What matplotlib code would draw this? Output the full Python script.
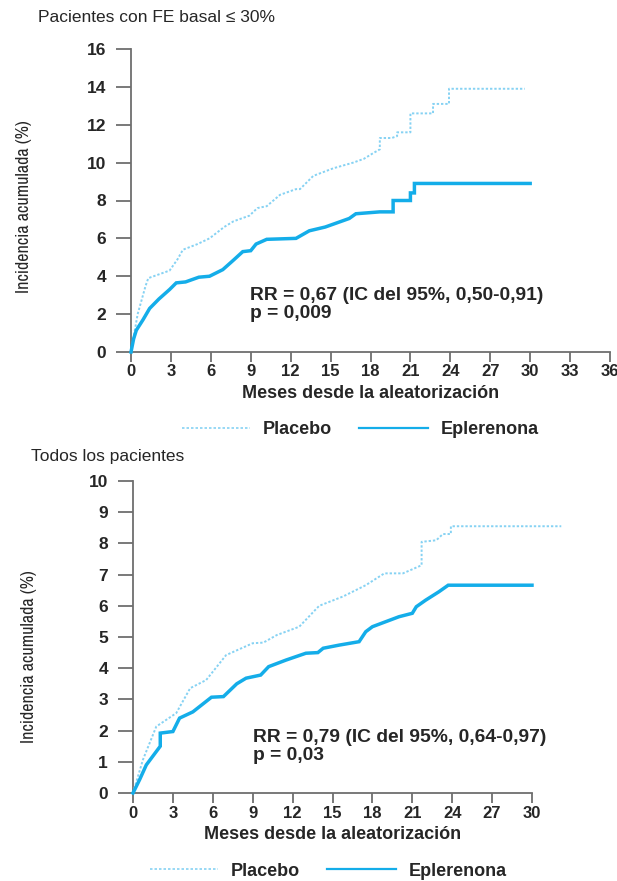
import matplotlib
matplotlib.use("Agg")
import matplotlib.pyplot as plt
from matplotlib.lines import Line2D
from matplotlib import font_manager

# ---------------- data ----------------
# Top panel: patients with baseline EF <= 30%  (repeated x = visible vertical jump)
top_plac_x = [0, 0.5, 1.1, 1.3, 2.9, 3.5, 3.9, 5.0, 5.9, 7.0, 7.7, 8.9, 9.5, 10.2, 11.2,
              12.4, 12.7, 13.7, 15.2, 16.7, 17.5, 18.2, 18.7, 18.7, 19.6, 20.0, 20.0,
              21.0, 21.0, 22.7, 22.7, 23.9, 23.9, 29.6]
top_plac_y = [0, 2.0, 3.5, 3.9, 4.3, 4.9, 5.4, 5.7, 6.0, 6.6, 6.9, 7.2, 7.6, 7.7, 8.3,
              8.6, 8.6, 9.3, 9.7, 10.0, 10.2, 10.5, 10.7, 11.3, 11.3, 11.4, 11.6,
              11.6, 12.6, 12.6, 13.1, 13.1, 13.9, 13.9]
top_eple_x = [0, 0.2, 0.4, 0.9, 1.4, 2.1, 2.9, 3.4, 4.1, 5.1, 5.9, 6.9, 7.7, 8.4, 9.0,
              9.4, 10.2, 12.4, 13.4, 14.6, 15.4, 16.4, 16.9, 18.7, 19.7, 19.7, 21.0,
              21.0, 21.3, 21.3, 30.0]
top_eple_y = [0, 0.7, 1.15, 1.7, 2.3, 2.8, 3.3, 3.65, 3.7, 3.95, 4.0, 4.35, 4.85, 5.3, 5.35,
              5.7, 5.95, 6.0, 6.4, 6.6, 6.8, 7.05, 7.3, 7.4, 7.4, 8.0, 8.0,
              8.4, 8.4, 8.9, 8.9]

# Bottom panel: all patients
bot_plac_x = [0, 0.75, 1.75, 3.25, 4.3, 5.5, 7.0, 9.0, 9.8, 10.8, 12.5, 14.0, 15.8,
              17.5, 18.9, 20.3, 21.7, 21.7, 22.8, 23.3, 23.9, 23.9, 32.2]
bot_plac_y = [0, 1.07, 2.13, 2.56, 3.36, 3.62, 4.42, 4.8, 4.82, 5.06, 5.33, 6.0, 6.3,
              6.66, 7.04, 7.04, 7.3, 8.05, 8.1, 8.3, 8.3, 8.55, 8.55]
bot_eple_x = [0, 0.5, 1.0, 2.05, 2.05, 3.0, 3.5, 4.5, 5.9, 6.8, 7.8, 8.5, 9.6, 10.2,
              11.5, 13.0, 13.9, 14.3, 15.5, 17.0, 17.5, 18.0, 19.0, 20.0, 21.0, 21.3,
              22.0, 23.0, 23.7, 30.0]
bot_eple_y = [0, 0.43, 0.9, 1.5, 1.92, 1.97, 2.4, 2.6, 3.07, 3.09, 3.5, 3.68, 3.78, 4.05,
              4.26, 4.48, 4.5, 4.64, 4.74, 4.85, 5.17, 5.33, 5.49, 5.65, 5.76, 5.97,
              6.18, 6.45, 6.66, 6.66]

series_names = ["Placebo", "Eplerenona"]
top_title = "Pacientes con FE basal \u2264 30%"
bot_title = "Todos los pacientes"
top_stats = ["RR = 0,67 (IC del 95%, 0,50-0,91)", "p = 0,009"]
bot_stats = ["RR = 0,79 (IC del 95%, 0,64-0,97)", "p = 0,03"]
top_xticks = list(range(0, 37, 3))
top_yticks = list(range(0, 17, 2))
bot_xticks = list(range(0, 31, 3))
bot_yticks = list(range(0, 11, 1))
xlabel = "Meses desde la aleatorizaci\u00f3n"
ylabel = "Incidencia acumulada (%)"

# ---------------- style ----------------
W, H = 617, 881
plt.rcParams['font.family'] = ['Liberation Sans', 'DejaVu Sans']
PLAC_C = "#86d2f3"
EPLE_C = "#14ade9"
SPINE_C = "#6e6e6e"
TXT_C = "#262626"

# pick a narrow font for the y labels if one is installed
narrow_name = None
for f in font_manager.fontManager.ttflist:
    if ("Narrow" in f.name or "Condensed" in f.name) and f.style == "normal":
        narrow_name = f.name
        break
if narrow_name:
    YL_FONT = dict(family=[narrow_name, 'DejaVu Sans'], fontsize=13)
else:
    YL_FONT = dict(family=['Liberation Sans', 'DejaVu Sans'], fontsize=11)

fig = plt.figure(figsize=(W / 100, H / 100), dpi=100)


def px_axes(left, right, top, bottom):
    return fig.add_axes([left / W, 1 - bottom / H, (right - left) / W, (bottom - top) / H])


def style_axes(ax, xticks, yticks, xmax, ymax):
    ax.set_xlim(0, xmax)
    ax.set_ylim(0, ymax)
    for s in ("top", "right"):
        ax.spines[s].set_visible(False)
    for s in ("left", "bottom"):
        ax.spines[s].set_color(SPINE_C)
        ax.spines[s].set_linewidth(1.3)
    ax.set_xticks(xticks)
    ax.set_yticks(yticks)
    ax.tick_params(axis="y", length=11, width=1.3, color=SPINE_C, pad=7,
                   labelsize=12.5, labelcolor=TXT_C)
    ax.tick_params(axis="x", length=7, width=1.3, color=SPINE_C, pad=2,
                   labelsize=12, labelcolor=TXT_C)
    for lab in ax.get_xticklabels() + ax.get_yticklabels():
        lab.set_fontweight("bold")
    ax.patch.set_alpha(0)


def draw_panel(ax, px, py, ex, ey):
    ax.plot(px, py, color=PLAC_C, lw=1.4, ls=(0, (1.2, 1.0)),
            clip_on=False, zorder=3, solid_joinstyle="miter")
    ax.plot(ex, ey, color=EPLE_C, lw=2.5, clip_on=False, zorder=4,
            solid_joinstyle="miter")


STAT_FS = 13.9

# ---- top panel ----
ax1 = px_axes(131, 610, 49, 352)
draw_panel(ax1, top_plac_x, top_plac_y, top_eple_x, top_eple_y)
style_axes(ax1, top_xticks, top_yticks, 36, 16)
ax1.set_xlabel(xlabel, fontsize=13, fontweight="bold", color=TXT_C, labelpad=4)
fig.text(24 / W, 1 - 207 / H, ylabel, rotation=90, ha="center", va="center",
         color=TXT_C, **YL_FONT)
fig.text(38 / W, 1 - 18 / H, top_title, ha="left", va="center", fontsize=12.5, color=TXT_C)
fig.text(250 / W, 1 - 295 / H, top_stats[0], ha="left", va="center", fontsize=STAT_FS,
         fontweight="bold", color=TXT_C)
fig.text(250 / W, 1 - 313 / H, top_stats[1], ha="left", va="center", fontsize=STAT_FS,
         fontweight="bold", color=TXT_C)

# ---- bottom panel ----
ax2 = px_axes(133, 532, 481, 793)
draw_panel(ax2, bot_plac_x, bot_plac_y, bot_eple_x, bot_eple_y)
style_axes(ax2, bot_xticks, bot_yticks, 30, 10)
ax2.set_xlabel(xlabel, fontsize=13, fontweight="bold", color=TXT_C, labelpad=4)
fig.text(29 / W, 1 - 657 / H, ylabel, rotation=90, ha="center", va="center",
         color=TXT_C, **YL_FONT)
fig.text(31 / W, 1 - 457 / H, bot_title, ha="left", va="center", fontsize=12.5, color=TXT_C)
fig.text(253 / W, 1 - 738 / H, bot_stats[0], ha="left", va="center", fontsize=STAT_FS,
         fontweight="bold", color=TXT_C)
fig.text(253 / W, 1 - 755 / H, bot_stats[1], ha="left", va="center", fontsize=STAT_FS,
         fontweight="bold", color=TXT_C)

# ---- legends ----
handles = [Line2D([], [], color=PLAC_C, lw=1.2, ls=(0, (1.5, 1.2))),
           Line2D([], [], color=EPLE_C, lw=1.6)]
for cx, cy in ((360, 430), (328, 871)):
    leg = fig.legend(handles, series_names, loc="center", ncol=2,
                     bbox_to_anchor=(cx / W, 1 - cy / H), frameon=False,
                     handlelength=3.8, handletextpad=0.7, columnspacing=1.5,
                     prop={"size": 13, "weight": "bold"}, borderpad=0)
    for t in leg.get_texts():
        t.set_color(TXT_C)

fig.savefig("out.png", dpi=100)
